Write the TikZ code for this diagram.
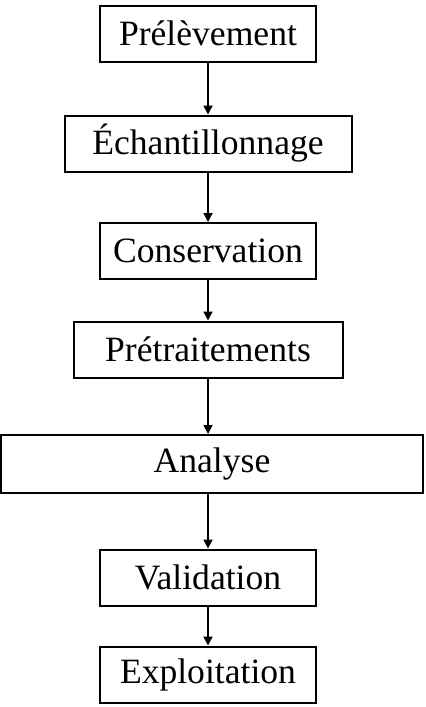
\documentclass[tikz,border=0pt]{standalone}
\usepackage{fontspec}
\setmainfont{Liberation Serif}
\usetikzlibrary{arrows.meta, positioning}

\begin{document}
\begin{tikzpicture}[
        node distance = 55pt,
        on grid,
        >= {Triangle[length = 4.5pt, width = 4.5pt]},
        every node/.style = {font = \fontsize{17.8}{20}\selectfont},
        stage/.style = {draw, line width = 1pt, minimum height = 28pt, inner sep = 0pt}
    ]

        \useasboundingbox (0,0) rectangle (212.5pt,-353.5pt);

        \node[stage, minimum width = 108pt] (prel) at (104pt,-16.75pt) {Prélèvement};
        \node[stage, minimum width = 143.5pt] (ech) [below = 55pt of prel] {Échantillonnage};
        \node[stage, minimum width = 108pt] (cons) [below = 53.75pt of ech] {Conservation};
        \node[stage, minimum width = 134.5pt] (pretr) [below = 49.25pt of cons] {Prétraitements};
        \node[stage, minimum width = 211pt, minimum height = 29pt] (ana) [below = 57.25pt of pretr, xshift = 2pt] {Analyse};
        \node[stage, minimum width = 108pt] (valid) [below = 56.75pt of ana, xshift = -2pt] {Validation};
        \node[stage, minimum width = 108pt] (expl) [below = 48.5pt of valid] {Exploitation};

        \path[->, line width = 0.9pt]
            (prel) edge (ech)
            (ech) edge (cons)
            (cons) edge (pretr)
            (pretr) edge (pretr |- ana.north)
            (valid |- ana.south) edge (valid)
            (valid) edge (expl);

    \end{tikzpicture}
\end{document}
